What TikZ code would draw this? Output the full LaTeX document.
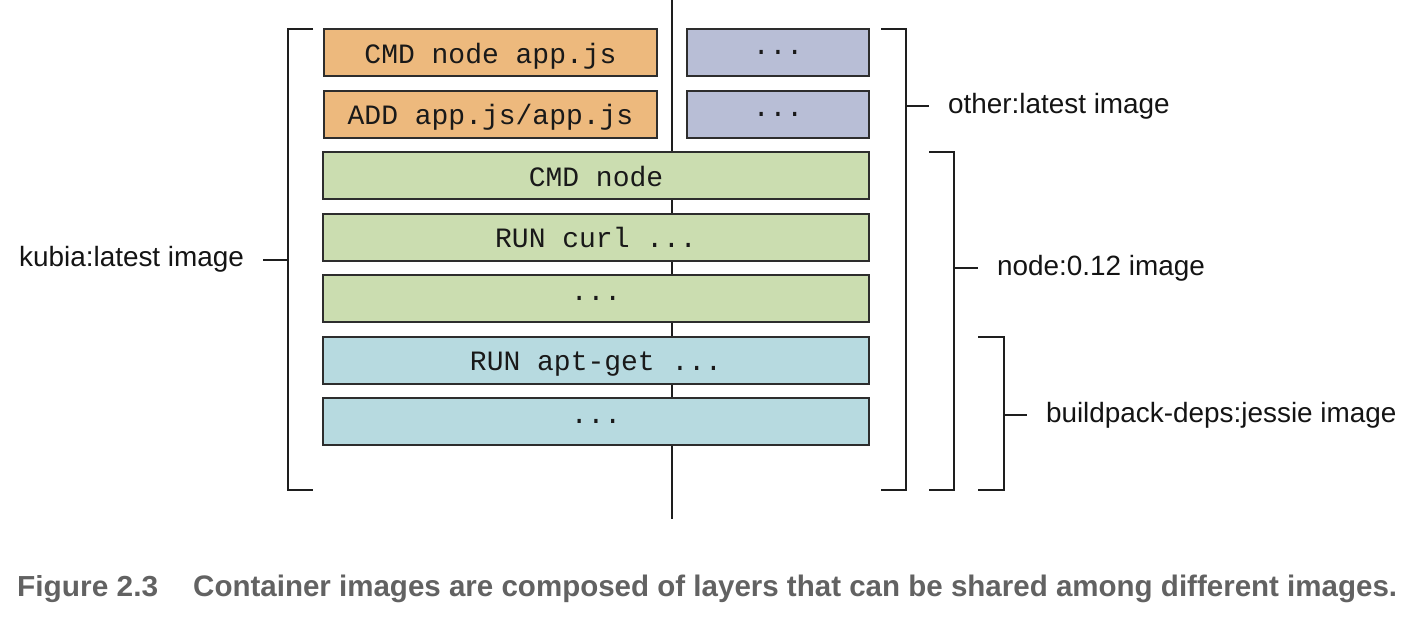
\documentclass[tikz,border=0pt]{standalone}
\usepackage{fontspec}
\setmainfont{Liberation Sans}
\newfontfamily\monofont{Liberation Mono}
\newfontfamily\capfont{Liberation Sans}
\definecolor{orangefill}{RGB}{237,185,125}
\definecolor{purplefill}{RGB}{184,190,214}
\definecolor{greenfill}{RGB}{203,221,176}
\definecolor{bluefill}{RGB}{183,218,224}
\definecolor{boxline}{RGB}{45,45,45}
\definecolor{lineblack}{RGB}{30,30,30}
\definecolor{capgray}{RGB}{98,98,98}
\begin{document}
\begin{tikzpicture}[x=1pt,y=-1pt,
  layer/.style={draw=boxline, line width=2pt, rectangle, inner sep=0pt,
    minimum height=47pt, font=\monofont\fontsize{28}{28}\selectfont, text=black!90,
    text height=26pt, text depth=5pt},
  dotlayer/.style={draw=boxline, line width=2pt, rectangle, inner sep=0pt,
    minimum height=47pt, font=\monofont\fontsize{28}{28}\selectfont, text=black!90},
  narrowlayer/.style={layer, minimum width=333pt},
  sidedots/.style={dotlayer, minimum width=182pt},
  widelayer/.style={layer, minimum width=546pt},
  widedots/.style={dotlayer, minimum width=546pt},
  bracket/.style={draw=lineblack, line width=2pt},
  lbl/.style={inner sep=0pt, outer xsep=19pt, font=\fontsize{27.9}{30}\selectfont, text=black!92},
  capstyle/.style={inner sep=0pt, text=capgray, font=\capfont\bfseries\fontsize{29}{30}\selectfont}
]
\useasboundingbox (0,0) rectangle (1420,624);

% shared centre line
\coordinate (ctop) at (672,0);
\coordinate (cbot) at (672,519);
\draw[draw=lineblack, line width=1.6pt] (ctop) -- (cbot);

% layers
\node[narrowlayer, fill=orangefill] (o1) at (490.5,52.5) {CMD node app.js};
\node[narrowlayer, fill=orangefill] (o2) at (490.5,114) {ADD app.js/app.js};
\node[sidedots, fill=purplefill] (p1) at (778,52.5) {...};
\node[sidedots, fill=purplefill] (p2) at (778,114) {...};
\node[widelayer, fill=greenfill] (g1) at (596,175.5) {CMD node};
\node[widelayer, fill=greenfill] (g2) at (596,237) {RUN curl ...};
\node[widedots, fill=greenfill] (g3) at (596,298.5) {...};
\node[widelayer, fill=bluefill] (b1) at (596,360) {RUN apt-get ...};
\node[widedots, fill=bluefill] (b2) at (596,421.5) {...};

% brackets
\draw[bracket] (313,29) -- (288,29) -- (288,490) -- (313,490);
\coordinate (kmid) at (288,260);
\draw[bracket] (881,29) -- (906,29) -- (906,490) -- (881,490);
\coordinate (omid) at (906,106);
\draw[bracket] (929,152) -- (954,152) -- (954,490) -- (929,490);
\coordinate (nmid) at (954,268);
\draw[bracket] (978,337) -- (1004,337) -- (1004,490) -- (978,490);
\coordinate (bmid) at (1004,415);

% labels
\node[lbl, anchor=east] (lk) at (263,259) {kubia:latest image};
\node[lbl, anchor=west] (lo) at (929,106) {other:latest image};
\node[lbl, anchor=west] (ln) at (978,268) {node:0.12 image};
\node[lbl, anchor=west] (lb) at (1027,415) {buildpack-deps:jessie image};
\draw[bracket] (kmid) -- (lk.east |- kmid);
\draw[bracket] (omid) -- (lo.west |- omid);
\draw[bracket] (nmid) -- (ln.west |- nmid);
\draw[bracket] (bmid) -- (lb.west |- bmid);

% caption
\node[capstyle, anchor=base west] (capnum) at (17,596)
  {\resizebox{141pt}{21pt}{Figure 2.3}};
\node[capstyle, anchor=base west] (captext) at (193,596)
  {\resizebox{1204pt}{21.5pt}{Container images are composed of layers that can be shared among different images.}};
\end{tikzpicture}
\end{document}
